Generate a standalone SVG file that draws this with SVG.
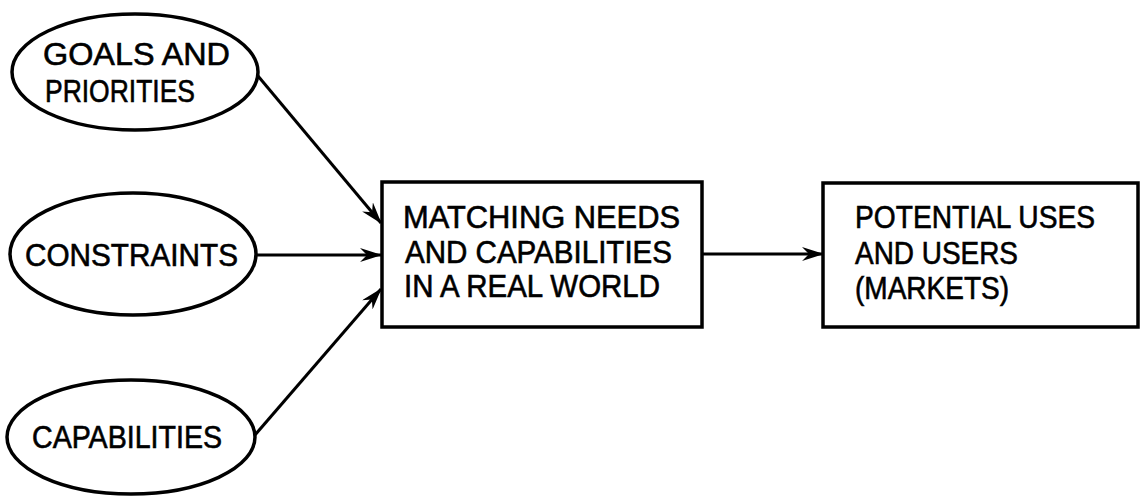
<svg xmlns="http://www.w3.org/2000/svg" width="1141" height="500" viewBox="0 0 1141 500">
<style>
.shape{fill:#fff;stroke:#000;stroke-width:3.5}
.t{font-family:"Liberation Sans",Arial,sans-serif;font-size:31px;fill:#000;stroke:#000;stroke-width:0.6}
.c{stroke:#000;stroke-width:3;fill:none}
</style>
<defs>
<marker id="ah" viewBox="0 0 22 14" refX="21" refY="7" markerWidth="22" markerHeight="14" markerUnits="userSpaceOnUse" orient="auto">
<path d="M0,0 L22,7 L0,14 L7,7 z" fill="#000"/>
</marker>
</defs>
<g id="connectors">
<line class="c" x1="258" y1="76" x2="381" y2="223" marker-end="url(#ah)"/>
<line class="c" x1="257" y1="255" x2="381" y2="255" marker-end="url(#ah)"/>
<line class="c" x1="255" y1="435" x2="381" y2="289" marker-end="url(#ah)"/>
<line class="c" x1="702" y1="254" x2="823" y2="254" marker-end="url(#ah)"/>
</g>
<g id="goals">
<ellipse class="shape" cx="135" cy="72" rx="123" ry="58"/>
<text class="t" x="43" y="65" textLength="187" lengthAdjust="spacingAndGlyphs">GOALS AND</text>
<text class="t" x="45" y="102" textLength="150" lengthAdjust="spacingAndGlyphs">PRIORITIES</text>
</g>
<g id="constraints">
<ellipse class="shape" cx="133" cy="254" rx="123" ry="61"/>
<text class="t" x="25" y="266" textLength="213" lengthAdjust="spacingAndGlyphs">CONSTRAINTS</text>
</g>
<g id="capabilities">
<ellipse class="shape" cx="131" cy="437" rx="124" ry="57"/>
<text class="t" x="32" y="448" textLength="190" lengthAdjust="spacingAndGlyphs">CAPABILITIES</text>
</g>
<g id="matching">
<rect class="shape" x="382" y="182" width="320" height="145"/>
<text class="t" x="403" y="228" textLength="277" lengthAdjust="spacingAndGlyphs">MATCHING NEEDS</text>
<text class="t" x="405" y="263" textLength="267" lengthAdjust="spacingAndGlyphs">AND CAPABILITIES</text>
<text class="t" x="404" y="297" textLength="256" lengthAdjust="spacingAndGlyphs">IN A REAL WORLD</text>
</g>
<g id="potential">
<rect class="shape" x="823" y="183" width="315" height="144"/>
<text class="t" x="855" y="228" textLength="240" lengthAdjust="spacingAndGlyphs">POTENTIAL USES</text>
<text class="t" x="855" y="264" textLength="163" lengthAdjust="spacingAndGlyphs">AND USERS</text>
<text class="t" x="855" y="299" textLength="154" lengthAdjust="spacingAndGlyphs">(MARKETS)</text>
</g>
</svg>
